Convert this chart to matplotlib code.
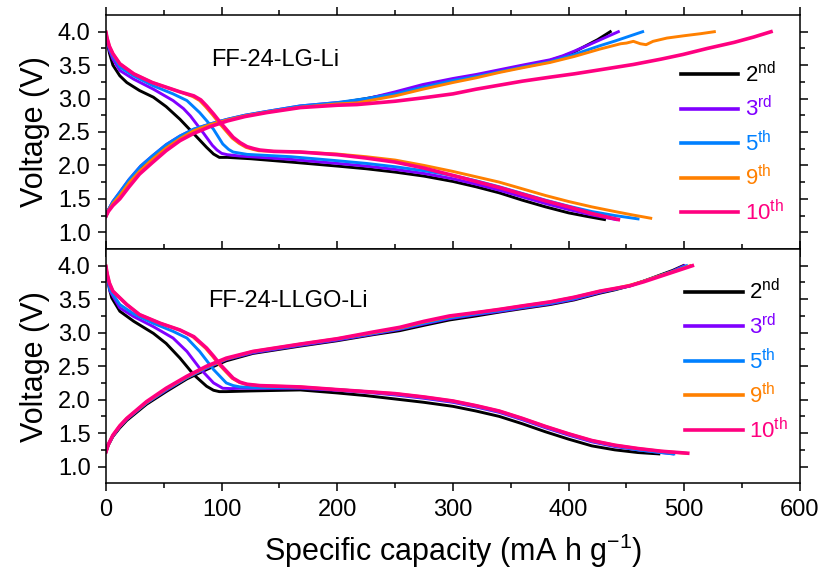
import matplotlib
matplotlib.use('Agg')
import matplotlib.pyplot as plt

plt.rcParams['font.family'] = ['Liberation Sans', 'DejaVu Sans']
plt.rcParams['mathtext.fontset'] = 'custom'
plt.rcParams['mathtext.rm'] = 'Liberation Sans'

cycles = ['2nd', '3rd', '5th', '9th', '10th']
cycle_labels = [r'$\mathregular{2^{nd}}$', r'$\mathregular{3^{rd}}$', r'$\mathregular{5^{th}}$',
                r'$\mathregular{9^{th}}$', r'$\mathregular{10^{th}}$']
colors = ['#000000', '#8000FF', '#0080FF', '#FF8000', '#FF0080']

# ---- FF-24-LG-Li : discharge ----
lg_dis_cap_2 = [0, 1, 3, 6, 12, 18, 29, 41, 52, 64, 75, 87, 93, 98, 105, 125, 160, 200, 225, 250, 275, 300, 320, 340, 360, 380, 400, 415, 431]
lg_dis_v_2 = [3.97, 3.85, 3.68, 3.50, 3.34, 3.24, 3.12, 3.02, 2.88, 2.69, 2.49, 2.27, 2.17, 2.12, 2.12, 2.10, 2.05, 1.99, 1.95, 1.90, 1.84, 1.76, 1.68, 1.59, 1.48, 1.38, 1.29, 1.24, 1.19]
lg_dis_cap_3 = [0, 1, 3, 6, 12, 24, 41, 58, 67, 73, 84, 92, 96, 100, 105, 116, 160, 200, 225, 250, 275, 300, 320, 340, 360, 380, 400, 420, 441]
lg_dis_v_3 = [3.97, 3.87, 3.72, 3.59, 3.42, 3.29, 3.14, 2.97, 2.85, 2.74, 2.49, 2.30, 2.23, 2.18, 2.16, 2.14, 2.09, 2.03, 1.99, 1.94, 1.88, 1.80, 1.72, 1.63, 1.53, 1.43, 1.34, 1.26, 1.19]
lg_dis_cap_5 = [0, 1, 3, 6, 12, 24, 41, 58, 70, 81, 88, 93, 101, 106, 110, 122, 160, 200, 225, 250, 275, 300, 320, 340, 360, 380, 400, 420, 440, 460]
lg_dis_v_5 = [3.97, 3.88, 3.75, 3.64, 3.47, 3.34, 3.19, 3.07, 2.97, 2.79, 2.65, 2.54, 2.32, 2.24, 2.20, 2.165, 2.13, 2.07, 2.03, 1.98, 1.92, 1.85, 1.77, 1.68, 1.58, 1.48, 1.39, 1.31, 1.25, 1.20]
lg_dis_cap_9 = [0, 1, 3, 6, 12, 24, 40, 52, 64, 75, 81, 86, 92, 98, 104, 109, 115, 121, 127, 132, 145, 168, 200, 225, 250, 275, 300, 320, 340, 360, 380, 400, 420, 440, 455, 471]
lg_dis_v_9 = [3.99, 3.90, 3.78, 3.67, 3.52, 3.37, 3.24, 3.17, 3.10, 3.03, 2.97, 2.88, 2.76, 2.63, 2.51, 2.41, 2.33, 2.27, 2.24, 2.22, 2.21, 2.20, 2.17, 2.13, 2.08, 2.00, 1.91, 1.83, 1.75, 1.65, 1.55, 1.46, 1.38, 1.31, 1.26, 1.21]
lg_dis_cap_10 = [0, 1, 3, 6, 12, 24, 40, 52, 64, 76, 82, 87, 93, 99, 105, 110, 116, 122, 128, 133, 145, 168, 200, 225, 250, 275, 300, 320, 340, 360, 380, 400, 420, 443]
lg_dis_v_10 = [3.99, 3.90, 3.78, 3.67, 3.52, 3.37, 3.24, 3.17, 3.10, 3.04, 2.98, 2.89, 2.77, 2.64, 2.52, 2.42, 2.34, 2.28, 2.25, 2.23, 2.21, 2.20, 2.16, 2.11, 2.05, 1.96, 1.85, 1.76, 1.67, 1.57, 1.47, 1.38, 1.28, 1.19]

# ---- FF-24-LG-Li : charge ----
lg_chg_cap_2 = [0, 2, 6, 12, 20, 30, 40, 52, 64, 76, 90, 105, 120, 140, 168, 200, 225, 250, 274, 300, 320, 340, 360, 384, 395, 405, 415, 425, 436]
lg_chg_v_2 = [1.24, 1.33, 1.45, 1.58, 1.77, 1.97, 2.12, 2.29, 2.42, 2.53, 2.61, 2.68, 2.74, 2.80, 2.88, 2.93, 3.00, 3.08, 3.19, 3.28, 3.34, 3.41, 3.48, 3.57, 3.63, 3.70, 3.79, 3.88, 4.0]
lg_chg_cap_3 = [0, 2, 6, 12, 20, 30, 40, 52, 64, 76, 90, 105, 120, 140, 168, 200, 217, 250, 274, 300, 320, 340, 360, 384, 395, 405, 417, 430, 443]
lg_chg_v_3 = [1.24, 1.33, 1.46, 1.60, 1.79, 1.99, 2.14, 2.31, 2.44, 2.54, 2.62, 2.69, 2.75, 2.81, 2.89, 2.94, 2.96, 3.10, 3.21, 3.30, 3.36, 3.43, 3.50, 3.58, 3.64, 3.71, 3.80, 3.90, 4.0]
lg_chg_cap_5 = [0, 2, 6, 12, 20, 30, 40, 52, 64, 76, 90, 105, 120, 140, 168, 200, 225, 250, 274, 300, 320, 340, 360, 384, 405, 427, 440, 452, 464]
lg_chg_v_5 = [1.24, 1.33, 1.46, 1.60, 1.79, 1.99, 2.14, 2.31, 2.44, 2.545, 2.62, 2.69, 2.75, 2.81, 2.89, 2.94, 3.00, 3.07, 3.17, 3.27, 3.33, 3.40, 3.47, 3.55, 3.66, 3.79, 3.86, 3.93, 4.0]
lg_chg_cap_9 = [0, 2, 6, 12, 20, 30, 40, 52, 64, 76, 90, 105, 120, 140, 168, 200, 217, 250, 274, 300, 320, 340, 360, 384, 405, 427, 445, 450, 456, 462, 467, 473, 485, 500, 514, 526]
lg_chg_v_9 = [1.24, 1.32, 1.43, 1.55, 1.74, 1.93, 2.09, 2.26, 2.40, 2.52, 2.61, 2.68, 2.74, 2.80, 2.87, 2.92, 2.935, 3.04, 3.14, 3.24, 3.31, 3.39, 3.46, 3.54, 3.63, 3.74, 3.82, 3.83, 3.856, 3.82, 3.806, 3.856, 3.905, 3.94, 3.97, 4.0]
lg_chg_cap_10 = [0, 2, 6, 12, 20, 29, 40, 52, 64, 76, 90, 105, 120, 139, 168, 200, 217, 250, 274, 300, 320, 340, 360, 384, 405, 427, 456, 480, 499, 520, 543, 560, 575]
lg_chg_v_10 = [1.24, 1.31, 1.40, 1.50, 1.68, 1.87, 2.04, 2.22, 2.37, 2.48, 2.58, 2.665, 2.73, 2.79, 2.865, 2.90, 2.91, 2.96, 3.01, 3.07, 3.14, 3.20, 3.26, 3.32, 3.37, 3.43, 3.51, 3.59, 3.66, 3.75, 3.84, 3.92, 4.0]

# ---- FF-24-LLGO-Li : discharge ----
llgo_dis_cap_2 = [0, 1, 3, 5, 12, 24, 41, 52, 64, 76, 87, 93, 98, 104, 125, 168, 200, 225, 250, 275, 300, 320, 340, 360, 380, 400, 420, 440, 460, 478]
llgo_dis_v_2 = [3.97, 3.85, 3.65, 3.52, 3.32, 3.17, 2.99, 2.84, 2.62, 2.37, 2.20, 2.14, 2.12, 2.12, 2.13, 2.145, 2.10, 2.06, 2.01, 1.96, 1.90, 1.83, 1.75, 1.64, 1.52, 1.41, 1.31, 1.25, 1.21, 1.19]
llgo_dis_cap_3 = [0, 1, 3.5, 12, 24, 41, 58, 70, 81, 93, 101, 108, 116, 168, 200, 225, 250, 275, 300, 320, 340, 360, 380, 400, 420, 440, 460, 475, 490]
llgo_dis_v_3 = [3.97, 3.85, 3.62, 3.37, 3.24, 3.09, 2.92, 2.72, 2.47, 2.25, 2.17, 2.165, 2.17, 2.17, 2.14, 2.11, 2.07, 2.02, 1.96, 1.89, 1.81, 1.70, 1.58, 1.47, 1.37, 1.30, 1.25, 1.22, 1.19]
llgo_dis_cap_5 = [0, 1, 3.5, 12, 24, 41, 58, 70, 81, 93, 104, 110, 116, 130, 168, 200, 225, 250, 275, 300, 320, 340, 360, 380, 400, 420, 440, 460, 475, 491]
llgo_dis_v_5 = [3.98, 3.87, 3.64, 3.42, 3.28, 3.14, 3.02, 2.92, 2.72, 2.45, 2.25, 2.21, 2.19, 2.18, 2.18, 2.15, 2.12, 2.08, 2.03, 1.97, 1.90, 1.82, 1.71, 1.59, 1.48, 1.38, 1.31, 1.25, 1.22, 1.19]
llgo_dis_cap_9 = [0, 1, 3, 6, 18, 29, 47, 64, 75, 86, 92, 98, 104, 109, 115, 121, 132, 168, 200, 225, 250, 275, 300, 320, 340, 360, 380, 400, 420, 440, 460, 480, 501]
llgo_dis_v_9 = [3.99, 3.88, 3.74, 3.62, 3.42, 3.27, 3.14, 3.04, 2.94, 2.77, 2.65, 2.52, 2.41, 2.32, 2.26, 2.23, 2.21, 2.19, 2.15, 2.12, 2.09, 2.04, 1.98, 1.91, 1.83, 1.72, 1.60, 1.49, 1.39, 1.32, 1.27, 1.23, 1.20]
llgo_dis_cap_10 = [0, 1, 3, 6, 18, 29, 47, 64, 76, 87, 93, 99, 105, 110, 116, 122, 133, 168, 200, 225, 250, 275, 300, 320, 340, 360, 380, 400, 420, 440, 460, 480, 503]
llgo_dis_v_10 = [3.99, 3.88, 3.74, 3.62, 3.42, 3.27, 3.14, 3.04, 2.94, 2.77, 2.65, 2.52, 2.41, 2.32, 2.26, 2.23, 2.21, 2.19, 2.15, 2.12, 2.09, 2.04, 1.98, 1.91, 1.83, 1.72, 1.60, 1.49, 1.39, 1.32, 1.27, 1.23, 1.20]

# ---- FF-24-LLGO-Li : charge ----
llgo_chg_cap_2 = [0, 2, 6, 12, 18, 35, 52, 70, 87, 104, 127, 168, 200, 231, 254, 275, 297, 320, 341, 360, 384, 405, 427, 440, 453, 465, 479, 490, 499]
llgo_chg_v_2 = [1.22, 1.32, 1.45, 1.58, 1.69, 1.93, 2.12, 2.31, 2.45, 2.58, 2.69, 2.80, 2.88, 2.97, 3.03, 3.11, 3.19, 3.25, 3.31, 3.36, 3.42, 3.49, 3.59, 3.64, 3.70, 3.77, 3.86, 3.93, 4.0]
llgo_chg_cap_3 = [0, 2, 6, 12, 18, 35, 52, 70, 87, 104, 127, 168, 200, 231, 254, 275, 297, 320, 341, 360, 384, 405, 427, 440, 453, 465, 479, 490, 500]
llgo_chg_v_3 = [1.22, 1.33, 1.46, 1.60, 1.71, 1.95, 2.14, 2.33, 2.47, 2.60, 2.70, 2.81, 2.89, 2.98, 3.05, 3.13, 3.21, 3.27, 3.32, 3.37, 3.43, 3.50, 3.60, 3.65, 3.70, 3.77, 3.85, 3.92, 4.0]
llgo_chg_cap_5 = [0, 2, 6, 12, 18, 35, 52, 70, 87, 104, 127, 168, 200, 231, 254, 275, 297, 320, 341, 360, 384, 405, 427, 440, 453, 465, 479, 491, 502]
llgo_chg_v_5 = [1.22, 1.33, 1.46, 1.60, 1.71, 1.95, 2.15, 2.33, 2.48, 2.61, 2.71, 2.82, 2.90, 2.99, 3.06, 3.14, 3.22, 3.28, 3.33, 3.38, 3.44, 3.51, 3.61, 3.65, 3.70, 3.77, 3.85, 3.92, 4.0]
llgo_chg_cap_9 = [0, 2, 6, 12, 18, 35, 52, 70, 87, 104, 127, 168, 200, 231, 254, 275, 297, 320, 341, 360, 384, 405, 427, 440, 453, 465, 479, 492, 505]
llgo_chg_v_9 = [1.22, 1.33, 1.47, 1.61, 1.72, 1.96, 2.16, 2.34, 2.49, 2.61, 2.72, 2.83, 2.91, 3.00, 3.07, 3.16, 3.24, 3.30, 3.35, 3.40, 3.46, 3.53, 3.62, 3.66, 3.71, 3.77, 3.85, 3.92, 4.0]
llgo_chg_cap_10 = [0, 2, 6, 12, 18, 35, 52, 70, 87, 104, 127, 168, 200, 231, 254, 275, 297, 320, 341, 360, 384, 405, 427, 440, 453, 465, 479, 493, 507]
llgo_chg_v_10 = [1.22, 1.33, 1.47, 1.61, 1.72, 1.97, 2.17, 2.35, 2.50, 2.62, 2.72, 2.83, 2.91, 3.01, 3.08, 3.17, 3.25, 3.30, 3.35, 3.40, 3.46, 3.53, 3.62, 3.66, 3.70, 3.76, 3.84, 3.92, 4.0]

lg_curves = [
    (lg_dis_cap_2, lg_dis_v_2, lg_chg_cap_2, lg_chg_v_2),
    (lg_dis_cap_3, lg_dis_v_3, lg_chg_cap_3, lg_chg_v_3),
    (lg_dis_cap_5, lg_dis_v_5, lg_chg_cap_5, lg_chg_v_5),
    (lg_dis_cap_9, lg_dis_v_9, lg_chg_cap_9, lg_chg_v_9),
    (lg_dis_cap_10, lg_dis_v_10, lg_chg_cap_10, lg_chg_v_10),
]
llgo_curves = [
    (llgo_dis_cap_2, llgo_dis_v_2, llgo_chg_cap_2, llgo_chg_v_2),
    (llgo_dis_cap_3, llgo_dis_v_3, llgo_chg_cap_3, llgo_chg_v_3),
    (llgo_dis_cap_5, llgo_dis_v_5, llgo_chg_cap_5, llgo_chg_v_5),
    (llgo_dis_cap_9, llgo_dis_v_9, llgo_chg_cap_9, llgo_chg_v_9),
    (llgo_dis_cap_10, llgo_dis_v_10, llgo_chg_cap_10, llgo_chg_v_10),
]

fig = plt.figure(figsize=(8.24, 5.70), dpi=100)
ax1 = fig.add_axes([0.1286, 0.5632, 0.8422, 0.4105])
ax2 = fig.add_axes([0.1286, 0.152, 0.8422, 0.4112])


def panel(ax, curves, name, name_xy, leg_anchor):
    for i, (dc, dv, cc, cv) in enumerate(curves):
        lw = 2.6 if i == 4 else 2.1
        ax.plot(dc, dv, color=colors[i], lw=lw, label=cycle_labels[i], solid_joinstyle='round')
        ax.plot(cc, cv, color=colors[i], lw=lw, solid_joinstyle='round')
    ax.set_xlim(0, 600)
    ax.set_ylim(0.75, 4.25)
    ax.set_xticks(range(0, 601, 100))
    ax.set_xticks(range(50, 600, 100), minor=True)
    ax.set_yticks([1.0, 1.5, 2.0, 2.5, 3.0, 3.5, 4.0])
    ax.set_yticks([1.25, 1.75, 2.25, 2.75, 3.25, 3.75], minor=True)
    ax.tick_params(which='both', direction='out', top=True, right=True, width=1.1, labelsize=17)
    ax.tick_params(which='major', length=6, pad=5)
    ax.tick_params(which='minor', length=3.5)
    for s in ax.spines.values():
        s.set_linewidth(1.1)
    ax.set_ylabel('Voltage (V)', fontsize=22, labelpad=6)
    ax.text(name_xy[0], name_xy[1], name, fontsize=17, ha='left', va='center')
    leg = ax.legend(loc='upper left', bbox_to_anchor=leg_anchor, frameon=False, fontsize=16,
                    handlelength=2.6, handletextpad=0.3, labelspacing=0.42,
                    borderpad=0, borderaxespad=0, labelcolor='linecolor')
    for h in leg.get_lines():
        h.set_linewidth(2.6)


panel(ax1, lg_curves, 'FF-24-LG-Li', (91, 3.58), (0.828, 0.80))
panel(ax2, llgo_curves, 'FF-24-LLGO-Li', (88.5, 3.47), (0.834, 0.87))
ax1.tick_params(labelbottom=False)
ax2.set_xlabel('Specific capacity (mA h g$^{\\mathregular{-1}}$)', fontsize=22, labelpad=8)

fig.savefig('out.png', dpi=100)
